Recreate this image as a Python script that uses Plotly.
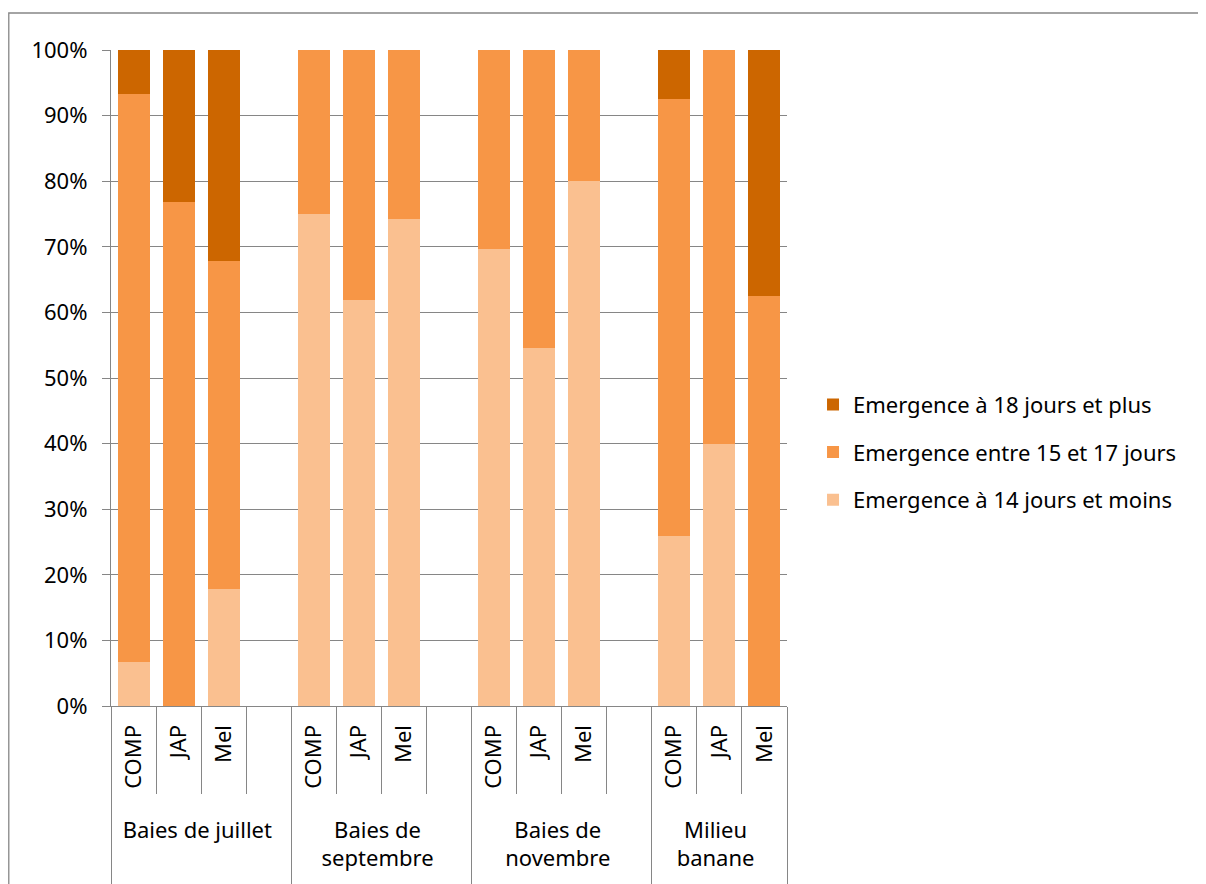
import plotly.graph_objects as go

NB = "\u00a0"
BLANK = NB * 14
groups = (["Baies de juillet"] * 4 + ["Baies de<br>septembre"] * 4 + ["Baies de<br>novembre"] * 4
          + ["Milieu<br>banane<br>" + NB] * 3)
subs = ["COMP", "JAP", "Mel", BLANK, "COMP", "JAP", "Mel", BLANK, "COMP", "JAP", "Mel", BLANK, "COMP", "JAP", "Mel"]

light = [0.067, 0.0, 0.178, None, 0.750, 0.619, 0.743, None, 0.697, 0.546, 0.800, None, 0.259, 0.400, 0.0]
mid = [0.866, 0.769, 0.501, None, 0.250, 0.381, 0.257, None, 0.303, 0.454, 0.200, None, 0.667, 0.600, 0.625]
dark = [0.067, 0.231, 0.321, None, 0.0, 0.0, 0.0, None, 0.0, 0.0, 0.0, None, 0.074, 0.0, 0.375]

names = ["Emergence à 14 jours et moins", "Emergence entre 15 et 17 jours", "Emergence à 18 jours et plus"]
colors = ["#FAC090", "#F79646", "#CC6600"]
ranks = [3, 2, 1]

FONT = "Noto Sans"
FS = 22
fig = go.Figure()
for i, (vals, name, col) in enumerate(zip([light, mid, dark], names, colors)):
    fig.add_trace(go.Bar(
        x=[groups, subs], y=vals, name=name, legendgroup=f"g{i}", legendrank=ranks[i],
        marker=dict(color=col, line=dict(width=0)), width=0.71,
    ))

fig.update_layout(
    barmode="stack",
    width=1206, height=884,
    margin=dict(l=103, r=427, t=42, b=186, autoexpand=False),
    paper_bgcolor="white", plot_bgcolor="white",
    font=dict(family=FONT, size=FS, color="black"),
    showlegend=True,
    legend=dict(x=1.0385, y=0.387, xanchor="left", yanchor="middle",
                traceorder="grouped", tracegroupgap=16,
                font=dict(family=FONT, size=FS)),
    bargap=0,
)
fig.update_yaxes(range=[0, 1], dtick=0.1, tickformat=".0%", showgrid=True,
                 gridcolor="#868686", gridwidth=1.3, showline=True, linecolor="#868686",
                 linewidth=1.3, ticks="outside", ticklen=8, tickcolor="#868686",
                 ticklabelstandoff=10, zeroline=False, tickfont=dict(size=FS))
fig.update_xaxes(type="multicategory", showline=True, linecolor="#868686", linewidth=1.3,
                 ticks="outside", ticklen=87, tickcolor="#868686", tickson="boundaries",
                 showdividers=True, dividercolor="#868686", dividerwidth=1.3,
                 ticklabelstandoff=9,
                 tickangle=-90, tickfont=dict(size=FS), mirror=False)
fig.add_shape(type="rect", xref="paper", yref="paper", x0=-0.1512, x1=1.62, y0=-0.5, y1=1.0564,
              line=dict(color="#868686", width=1.3), fillcolor="rgba(0,0,0,0)", layer="below")

fig.write_html("out.html")
